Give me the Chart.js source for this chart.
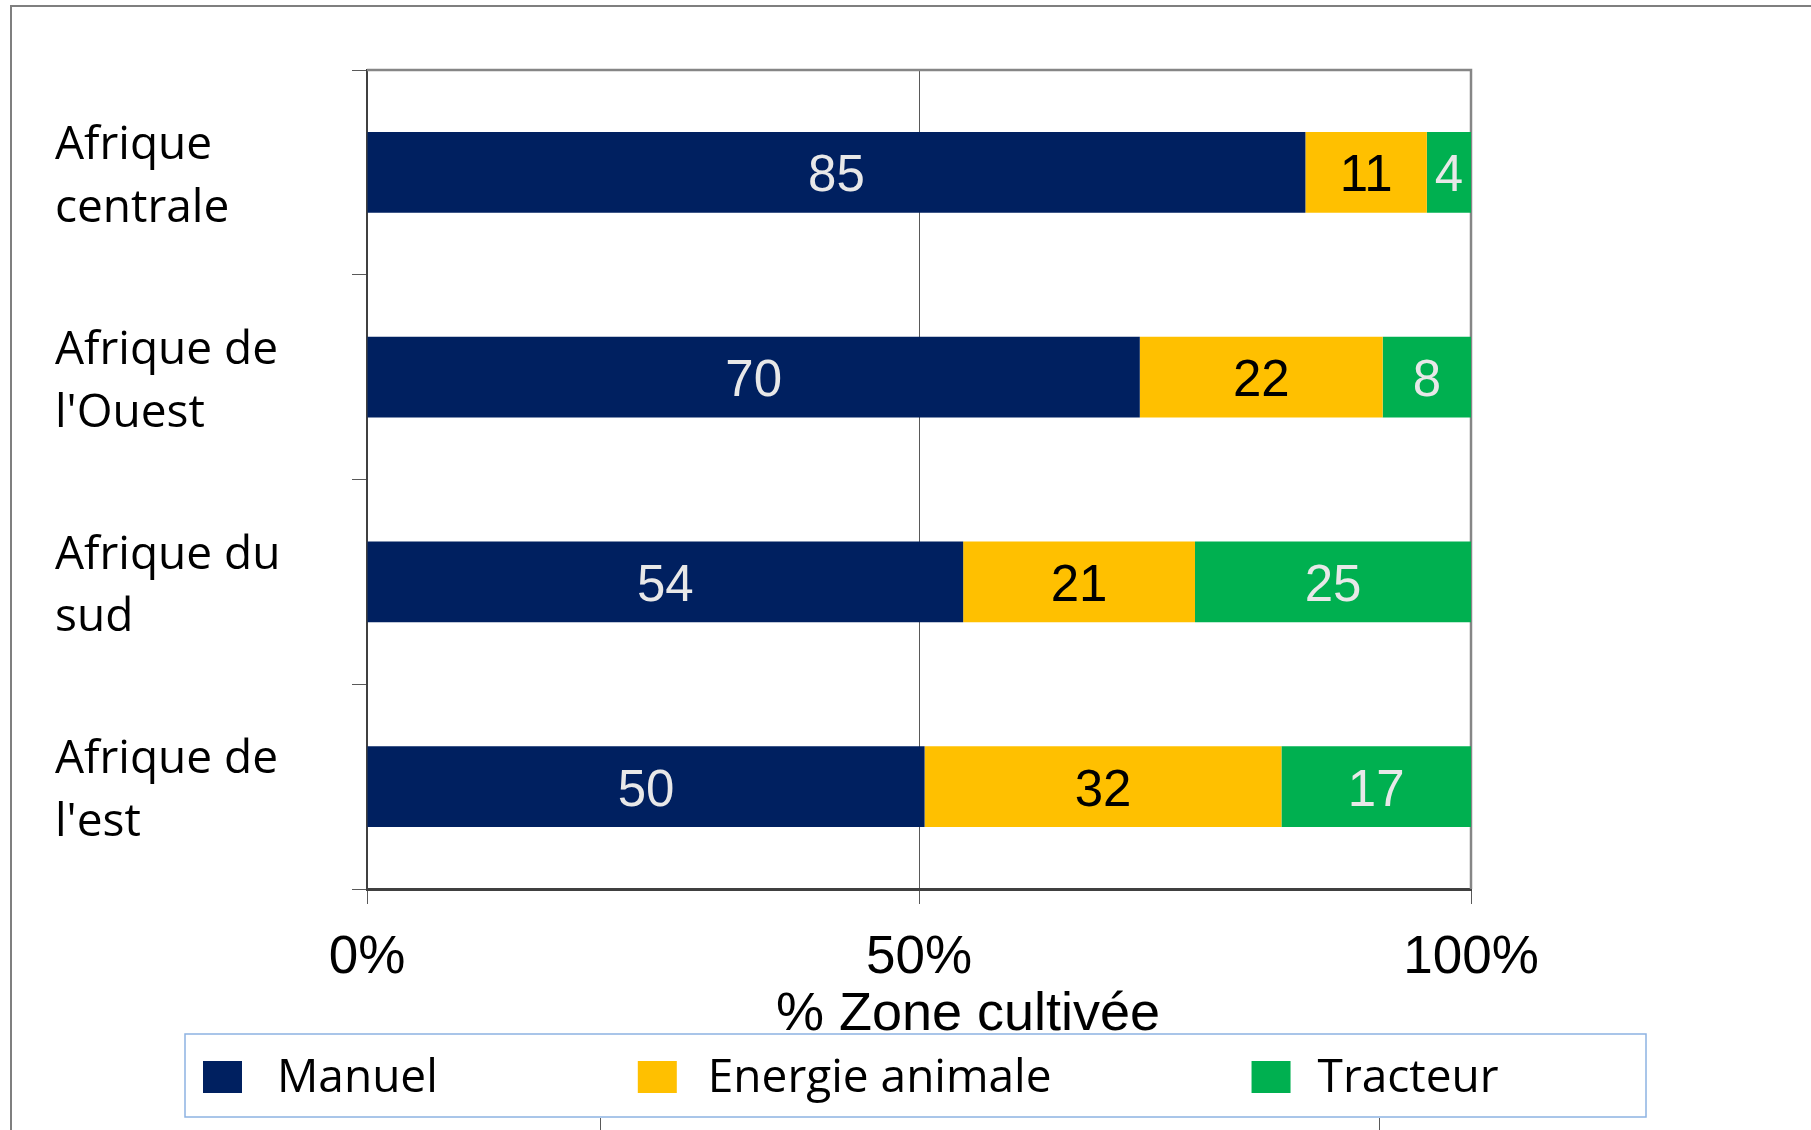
<!DOCTYPE html>
<html>
<head>
<meta charset="utf-8">
<title>Zone cultivée</title>
<script src="https://cdn.jsdelivr.net/npm/chart.js@4.4.1/dist/chart.umd.min.js"></script>
<style>
  html, body { margin: 0; padding: 0; background: #fff; }
  canvas { display: block; }
</style>
</head>
<body>
<canvas id="chart" width="1811" height="1130"></canvas>
<script>
// data
const regions = [['Afrique', 'centrale'], ['Afrique de', "l'Ouest"], ['Afrique du', 'sud'], ['Afrique de', "l'est"]];
const manuel = [85, 70, 54, 50];
const energie = [11, 22, 21, 32];
const tracteur = [4, 8, 25, 17];
const seriesNames = ['Manuel', 'Energie animale', 'Tracteur'];
const seriesColors = ['#002060', '#FFC000', '#00B050'];
const valueColors = ['#e8e8e8', '#000000', '#e8e8e8'];
const xTicks = [0, 50, 100];
const xTitle = '% Zone cultivée';

const calibri = "'Open Sans', 'Noto Sans', sans-serif";
const arial = "'Liberation Sans', Arial, sans-serif";

// 100% stacked: each bar is scaled to its own total
const rawSeries = [manuel, energie, tracteur];
const totals = regions.map((r, i) => manuel[i] + energie[i] + tracteur[i]);

const datasets = rawSeries.map((values, s) => ({
    label: seriesNames[s],
    data: values.map((v, i) => v / totals[i] * 100),
    raw: values,
    backgroundColor: seriesColors[s],
    borderWidth: 0,
    barPercentage: 0.395,
    categoryPercentage: 1.0
}));

// plot border (top and right) drawn under the bars
const plotBorder = {
    id: 'plotBorder',
    beforeDatasetsDraw(chart) {
        const { ctx, chartArea: a } = chart;
        ctx.save();
        ctx.strokeStyle = '#868686';
        ctx.lineWidth = 2.5;
        ctx.beginPath();
        ctx.moveTo(a.left, a.top);
        ctx.lineTo(a.right, a.top);
        ctx.lineTo(a.right, a.bottom);
        ctx.stroke();
        ctx.restore();
    }
};

// value in the middle of each segment
const valueLabels = {
    id: 'valueLabels',
    afterDatasetsDraw(chart) {
        const ctx = chart.ctx;
        ctx.save();
        ctx.font = '51px ' + arial;
        ctx.textAlign = 'center';
        ctx.textBaseline = 'middle';
        chart.data.datasets.forEach((ds, s) => {
            ctx.fillStyle = valueColors[s];
            chart.getDatasetMeta(s).data.forEach((bar, i) => {
                ctx.fillText(String(ds.raw[i]), (bar.x + bar.base) / 2, bar.y + 5);
            });
        });
        ctx.restore();
    }
};

// outer frame, axis title (sits right of centre in the original) and boxed legend
const frameAndLegend = {
    id: 'frameAndLegend',
    afterDraw(chart) {
        const ctx = chart.ctx;
        const xs = chart.scales.x;
        ctx.save();
        ctx.strokeStyle = '#7f7f7f';
        ctx.lineWidth = 2;
        ctx.beginPath();
        ctx.moveTo(11, 1130);
        ctx.lineTo(11, 6);
        ctx.lineTo(1811, 6);
        ctx.stroke();

        ctx.strokeStyle = '#595959';
        ctx.lineWidth = 1;
        ctx.beginPath();
        ctx.moveTo(600.5, 1118);
        ctx.lineTo(600.5, 1130);
        ctx.moveTo(1379.5, 1118);
        ctx.lineTo(1379.5, 1130);
        ctx.stroke();

        ctx.fillStyle = '#000';
        ctx.font = '54px ' + arial;
        ctx.textAlign = 'center';
        ctx.textBaseline = 'alphabetic';
        ctx.fillText(xTitle, (xs.left + xs.right) / 2 + 49, 1030);

        ctx.strokeStyle = '#8db3e2';
        ctx.lineWidth = 1.5;
        ctx.strokeRect(185, 1034, 1461, 83);

        ctx.font = '46px ' + calibri;
        ctx.textAlign = 'left';
        let x = 203;
        chart.data.datasets.forEach((ds, s) => {
            const gap = 74 - s * 4;
            ctx.fillStyle = ds.backgroundColor;
            ctx.fillRect(x, 1061, 39, 32);
            ctx.fillStyle = '#000';
            ctx.fillText(ds.label, x + gap, 1092);
            x += gap + ctx.measureText(ds.label).width + 200;
        });
        ctx.restore();
    }
};

new Chart(document.getElementById('chart'), {
    type: 'bar',
    data: { labels: regions, datasets: datasets },
    options: {
        indexAxis: 'y',
        responsive: false,
        animation: false,
        layout: { padding: { left: 55, top: 70, right: 340, bottom: 86 } },
        plugins: {
            legend: { display: false },
            tooltip: { enabled: false }
        },
        scales: {
            x: {
                stacked: true,
                min: 0,
                max: 100,
                afterBuildTicks: scale => { scale.ticks = xTicks.map(v => ({ value: v })); },
                afterFit: scale => { scale.height = 155; },
                ticks: {
                    color: '#000',
                    padding: 23,
                    font: { family: arial, size: 53 },
                    callback: v => v + '%'
                },
                grid: {
                    color: '#595959',
                    lineWidth: 1,
                    tickLength: 15,
                    tickColor: '#595959'
                },
                border: { color: '#404040', width: 3 }
            },
            y: {
                stacked: true,
                afterFit: scale => { scale.width = 312; },
                ticks: {
                    color: '#000',
                    crossAlign: 'far',
                    labelOffset: 5,
                    font: { family: calibri, size: 46, lineHeight: 1.36 }
                },
                grid: {
                    drawOnChartArea: false,
                    color: '#595959',
                    tickColor: '#595959',
                    tickLength: 15
                },
                border: { color: '#404040', width: 2 }
            }
        }
    },
    plugins: [plotBorder, valueLabels, frameAndLegend]
});
</script>
</body>
</html>
